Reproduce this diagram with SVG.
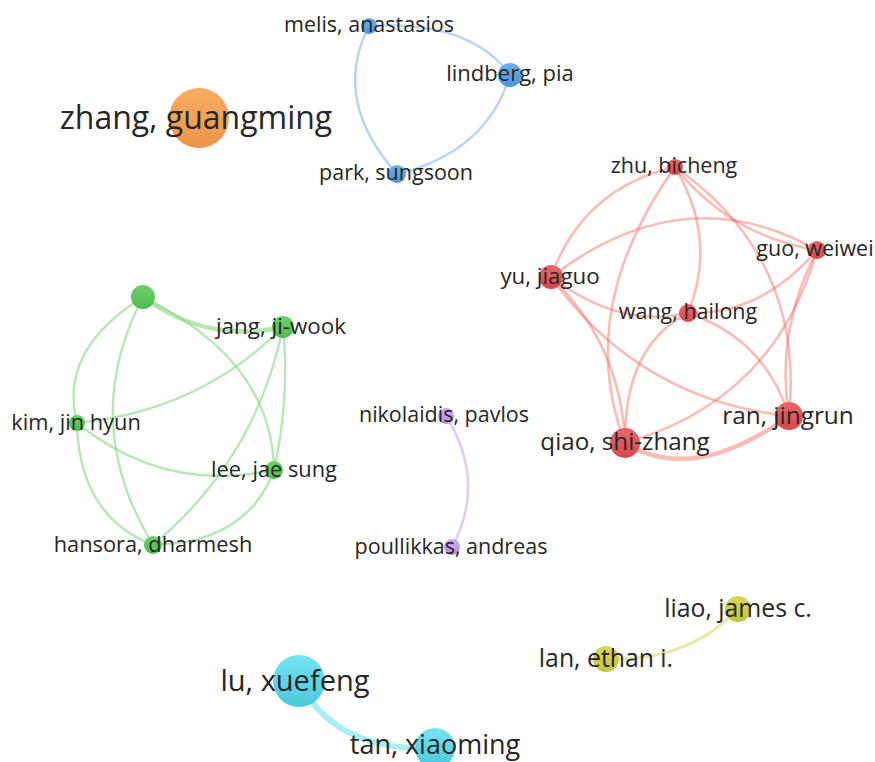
<svg xmlns="http://www.w3.org/2000/svg" width="875" height="762" viewBox="0 0 875 762">
<style>
.lbl{font-family:"Open Sans","Liberation Sans",sans-serif;fill:#262626;text-anchor:middle}
.e{fill:none;stroke-linecap:round}
.er{stroke:#f26b5f;stroke-opacity:.45;stroke-width:2.6}
.eg{stroke:#7ed37a;stroke-opacity:.55;stroke-width:2.4}
.eb{stroke:#8cbcf0;stroke-opacity:.65;stroke-width:2.4}
.ep{stroke:#cfb3f5;stroke-opacity:.7;stroke-width:2.4}
.ey{stroke:#e3e698;stroke-opacity:.85;stroke-width:3.2}
.ec{stroke:#9aeaf5;stroke-opacity:.85;stroke-width:6}
</style>
<defs>
<linearGradient id="gr" x1="0" y1="0" x2="0" y2="1"><stop offset="0" stop-color="#e8676a"/><stop offset="1" stop-color="#d9474d"/></linearGradient>
<linearGradient id="gg" x1="0" y1="0" x2="0" y2="1"><stop offset="0" stop-color="#6fd06c"/><stop offset="1" stop-color="#4fba4f"/></linearGradient>
<linearGradient id="gb" x1="0" y1="0" x2="0" y2="1"><stop offset="0" stop-color="#6cb0ea"/><stop offset="1" stop-color="#4b95d8"/></linearGradient>
<linearGradient id="go" x1="0" y1="0" x2="0" y2="1"><stop offset="0" stop-color="#f9ad60"/><stop offset="1" stop-color="#ec944c"/></linearGradient>
<linearGradient id="gp" x1="0" y1="0" x2="0" y2="1"><stop offset="0" stop-color="#cfa9f2"/><stop offset="1" stop-color="#b88de6"/></linearGradient>
<linearGradient id="gy" x1="0" y1="0" x2="0" y2="1"><stop offset="0" stop-color="#d9d85a"/><stop offset="1" stop-color="#c4c23c"/></linearGradient>
<linearGradient id="gc" x1="0" y1="0" x2="0" y2="1"><stop offset="0" stop-color="#74e3f2"/><stop offset="1" stop-color="#4cc8dc"/></linearGradient>
</defs>
<rect width="875" height="762" fill="#ffffff"/>
<g id="connectors">
<path class="e eb" d="M369,26 Q470,20 510,75"/>
<path class="e eb" d="M510,75 Q487,152 397,174"/>
<path class="e eb" d="M369,26 Q331,100 397,174"/>
<path class="e er" d="M675,167 Q583,188 551,277"/>
<path class="e er" d="M675,167 Q574,309 625,443"/>
<path class="e er" d="M675,167 Q718,240 688,313"/>
<path class="e er" d="M675,167 Q730,236 817,250"/>
<path class="e er" d="M675,167 Q805,258 789,416"/>
<path class="e er" d="M551,277 Q684,175 817,250"/>
<path class="e er" d="M551,277 Q620,329 688,313"/>
<path class="e er" d="M551,277 Q639,400 789,416"/>
<path class="e er" d="M551,277 Q621,345 625,443"/>
<path class="e er" d="M817,250 Q762,315 688,313"/>
<path class="e er" d="M817,250 Q775,400 625,443"/>
<path class="e er" d="M817,250 Q775,333 789,416"/>
<path class="e er" d="M688,313 Q765,339 789,416"/>
<path class="e er" d="M688,313 Q624,346 625,443"/>
<path class="e er" d="M625,443 Q693,485 789,416" style="stroke-width:4.5"/>
<path class="e eg" d="M143,297 Q207,344 283,327" style="stroke-width:4.5"/>
<path class="e eg" d="M143,297 Q272,360 274,470"/>
<path class="e eg" d="M143,297 Q58,350 77,423"/>
<path class="e eg" d="M143,297 Q78,421 153,545"/>
<path class="e eg" d="M283,327 Q200,411 77,423"/>
<path class="e eg" d="M283,327 Q290,398 274,470"/>
<path class="e eg" d="M283,327 Q256,459 153,545"/>
<path class="e eg" d="M77,423 Q165,494 274,470"/>
<path class="e eg" d="M77,423 Q79,516 153,545"/>
<path class="e eg" d="M274,470 Q247,543 153,545"/>
<path class="e ep" d="M446,416 Q487,482 452,547"/>
<path class="e ey" d="M606,659 Q688,662 738,609"/>
<path class="e ec" d="M299,681 Q334,752 435,748"/>
</g>
<g id="n-zhang"><circle cx="199" cy="118" r="30" fill="url(#go)"/><text class="lbl" x="196" y="129" font-size="32">zhang, guangming</text></g>
<g id="n-melis"><circle cx="369" cy="26" r="8" fill="url(#gb)"/><text class="lbl" x="369" y="32" font-size="21.5">melis, anastasios</text></g>
<g id="n-lindberg"><circle cx="510" cy="75" r="12" fill="url(#gb)"/><text class="lbl" x="510" y="81" font-size="22">lindberg, pia</text></g>
<g id="n-park"><circle cx="397" cy="174" r="9" fill="url(#gb)"/><text class="lbl" x="396" y="180" font-size="21.5">park, sungsoon</text></g>
<g id="n-zhu"><circle cx="675" cy="167" r="8" fill="url(#gr)"/><text class="lbl" x="674" y="173" font-size="21.5">zhu, bicheng</text></g>
<g id="n-guo"><circle cx="817" cy="250" r="9" fill="url(#gr)"/><text class="lbl" x="815" y="256" font-size="21.5">guo, weiwei</text></g>
<g id="n-yu"><circle cx="551" cy="277" r="12" fill="url(#gr)"/><text class="lbl" x="550" y="284" font-size="22.3">yu, jiaguo</text></g>
<g id="n-wang"><circle cx="688" cy="313" r="9" fill="url(#gr)"/><text class="lbl" x="688" y="319" font-size="21.5">wang, hailong</text></g>
<g id="n-ran"><circle cx="789" cy="416" r="14" fill="url(#gr)"/><text class="lbl" x="788" y="424" font-size="24.4">ran, jingrun</text></g>
<g id="n-qiao"><circle cx="625" cy="443" r="15" fill="url(#gr)"/><text class="lbl" x="625" y="450" font-size="24.2">qiao, shi-zhang</text></g>
<g id="n-unlabeled"><circle cx="143" cy="297" r="12" fill="url(#gg)"/></g>
<g id="n-jang"><circle cx="283" cy="327" r="11" fill="url(#gg)"/><text class="lbl" x="281" y="334" font-size="22.4">jang, ji-wook</text></g>
<g id="n-kim"><circle cx="77" cy="423" r="8" fill="url(#gg)"/><text class="lbl" x="76" y="430" font-size="21.8">kim, jin hyun</text></g>
<g id="n-lee"><circle cx="274" cy="470" r="9" fill="url(#gg)"/><text class="lbl" x="274" y="477" font-size="21.8">lee, jae sung</text></g>
<g id="n-hansora"><circle cx="153" cy="545" r="9" fill="url(#gg)"/><text class="lbl" x="153" y="552" font-size="21.8">hansora, dharmesh</text></g>
<g id="n-nikolaidis"><circle cx="446" cy="416" r="8" fill="url(#gp)"/><text class="lbl" x="444" y="422" font-size="21.5">nikolaidis, pavlos</text></g>
<g id="n-poullikkas"><circle cx="452" cy="547" r="8" fill="url(#gp)"/><text class="lbl" x="451" y="554" font-size="21.5">poullikkas, andreas</text></g>
<g id="n-liao"><circle cx="738" cy="609" r="13" fill="url(#gy)"/><text class="lbl" x="738" y="617" font-size="24.8">liao, james c.</text></g>
<g id="n-lan"><circle cx="606" cy="659" r="13" fill="url(#gy)"/><text class="lbl" x="606" y="667" font-size="24.8">lan, ethan i.</text></g>
<g id="n-lu"><circle cx="299" cy="681" r="26" fill="url(#gc)"/><text class="lbl" x="295" y="691" font-size="29">lu, xuefeng</text></g>
<g id="n-tan"><circle cx="435" cy="748" r="20" fill="url(#gc)"/><text class="lbl" x="435" y="754" font-size="27">tan, xiaoming</text></g>
</svg>
